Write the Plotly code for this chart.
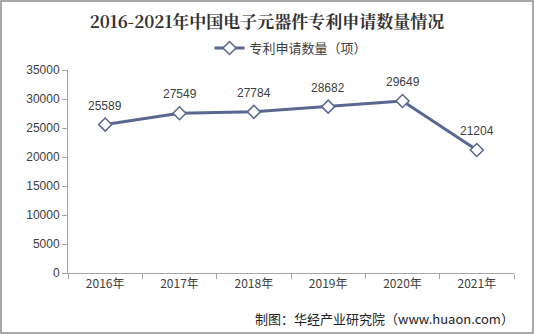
import plotly.graph_objects as go

categories = ["2016年", "2017年", "2018年", "2019年", "2020年", "2021年"]
values = [25589, 27549, 27784, 28682, 29649, 21204]
y_ticks = [0, 5000, 10000, 15000, 20000, 25000, 30000, 35000]

W, H = 534, 334
L, R, T, B = 68, 20, 70, 61
pw, ph = W - L - R, H - T - B

def px(x):
    return (x - L) / pw

def py(y):
    return (H - B - y) / ph

line_color = "#5a6891"

fig = go.Figure()
fig.add_trace(go.Scatter(
    x=categories, y=values, mode="lines+markers",
    name="专利申请数量（项）",
    line=dict(color=line_color, width=3),
    marker=dict(symbol="diamond", size=10, color="white", line=dict(color=line_color, width=1.5)),
    cliponaxis=False,
))

annotations = [
    dict(x=c, y=v, xref="x", yref="y", text=str(v), showarrow=False,
         yanchor="bottom", yshift=10,
         font=dict(family="Liberation Sans, Arial", size=12, color="#404040"))
    for c, v in zip(categories, values)
]
annotations.append(
    dict(text="制图：华经产业研究院（www.huaon.com）", xref="paper", yref="paper",
         x=px(516), y=py(318), xanchor="right", yanchor="middle", showarrow=False,
         font=dict(family="Noto Sans CJK SC", size=13, color="#222222")))

fig.update_layout(
    width=W, height=H,
    margin=dict(l=L, r=R, t=T, b=B),
    paper_bgcolor="white", plot_bgcolor="white",
    title=dict(text="<b>2016-2021年中国电子元器件专利申请数量情况</b>",
               x=0.5, xanchor="center", y=1 - 22 / H, yanchor="middle",
               font=dict(family="Noto Serif CJK SC, Noto Sans CJK SC", size=17, color="#333333")),
    showlegend=True,
    legend=dict(orientation="h", x=0.5, xanchor="center", y=py(48), yanchor="middle",
                font=dict(family="Noto Sans CJK SC", size=13, color="#404040"),
                bgcolor="rgba(0,0,0,0)"),
    xaxis=dict(type="category", range=[-0.5, 5.5], showgrid=False, showline=True,
               linecolor="#a6a6a6", linewidth=1,
               ticks="outside", ticklen=5, tickcolor="#a6a6a6", tickson="boundaries",
               tickfont=dict(family="Noto Sans CJK SC", size=12, color="#404040")),
    yaxis=dict(range=[0, 35000], tickvals=y_ticks, ticktext=[str(t) for t in y_ticks],
               showgrid=False, showline=True,
               linecolor="#a6a6a6", linewidth=1, ticks="outside", ticklen=5, tickcolor="#a6a6a6",
               tickfont=dict(family="Liberation Sans, Arial", size=12, color="#404040"),
               zeroline=False),
    shapes=[dict(type="rect", xref="paper", yref="paper",
                 x0=px(1), x1=px(533), y0=py(333), y1=py(1),
                 line=dict(color="#8c8c8c", width=1.5), fillcolor="rgba(0,0,0,0)", layer="below")],
    annotations=annotations,
)

fig.write_html("out.html")
